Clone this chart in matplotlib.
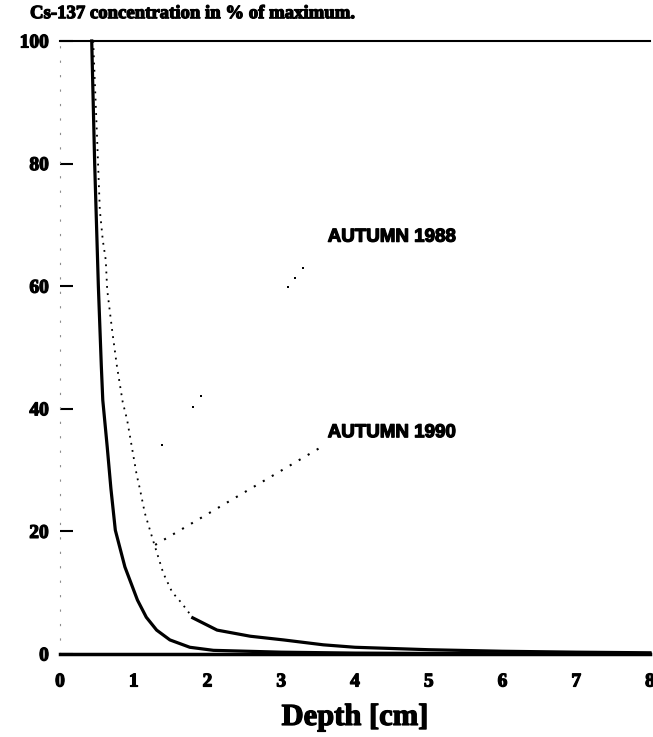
import matplotlib.pyplot as plt
import matplotlib.patheffects as pe

# Cs-137 depth profiles
depth_1988 = [0.43, 0.47, 0.52, 0.56, 0.58, 0.64, 0.69, 0.75, 0.88, 1.05,
              1.17, 1.31, 1.49, 1.76, 2.08, 3.0, 4.0, 5.0, 6.0, 7.0, 8.0]
conc_1988 = [100, 80, 60, 47, 41.4, 33.8, 27.0, 20.2, 14.2, 8.8,
             6.0, 3.9, 2.3, 1.1, 0.6, 0.3, 0.15, 0.1, 0.05, 0.03, 0.02]

# 1990: dotted upper part, solid tail
depth_1990_dot = [0.45, 0.50, 0.54, 0.58, 0.62, 0.64, 0.71, 0.77, 0.85, 0.91,
                  1.04, 1.08, 1.15, 1.22, 1.26, 1.40, 1.52, 1.65, 1.80]
conc_1990_dot = [100, 85, 72.4, 67.5, 64.3, 59.4, 52.5, 47.1, 41.1, 38.2,
                 29.2, 27.1, 23.0, 20.2, 18.6, 13.2, 10.1, 8.3, 5.9]
depth_1990_tail = [1.80, 2.13, 2.58, 3.03, 3.57, 4.0, 5.0, 6.0, 7.0, 8.0]
conc_1990_tail = [5.9, 3.9, 2.9, 2.3, 1.5, 1.1, 0.7, 0.45, 0.3, 0.2]

# leader lines from the labels
leader_1990_x = [1.29, 3.59]
leader_1990_y = [17.8, 34.1]
leader_1988_x = [1.38, 1.80, 1.91, 3.09, 3.19, 3.30]   # only faint fragments survive in the scan
leader_1988_y = [34.1, 40.3, 42.1, 59.9, 61.3, 63.0]

xticks = [0, 1, 2, 3, 4, 5, 6, 7, 8]
yticks = [0, 20, 40, 60, 80, 100]

serif = 'Liberation Serif'
heavy = [pe.withStroke(linewidth=0.9, foreground='black')]

fig = plt.figure(figsize=(6.53, 7.37), dpi=100)
ax = fig.add_axes([0.0919, 0.1126, 0.9035, 0.8318])

ax.plot(depth_1988, conc_1988, color='black', lw=2.3, clip_on=False)
ax.plot(depth_1990_dot, conc_1990_dot, color='black', lw=1.3, ls=(0, (1, 3)))
ax.plot(depth_1990_tail, conc_1990_tail, color='black', lw=2.3, clip_on=False)

ax.plot(leader_1990_x, leader_1990_y, color='black', lw=1.5, ls=(0, (1, 4)))
ax.plot(leader_1988_x, leader_1988_y, 's', color='black', ms=1.6, mew=0)

for yy, lab in [(68.0, 'AUTUMN 1988'), (36.1, 'AUTUMN 1990')]:
    ax.text(3.63, yy, lab, fontsize=13.5, fontweight='bold', family='Liberation Sans',
            va='center', ha='left', path_effects=heavy)

ax.set_xlim(0, 8)
ax.set_ylim(0, 100)
ax.set_xticks(xticks)
ax.set_yticks(yticks)
ax.set_xticklabels([str(t) for t in xticks], fontsize=14, fontweight='bold', family=serif)
ax.set_yticklabels([str(t) for t in yticks], fontsize=14, fontweight='bold', family=serif)
for lbl in ax.get_xticklabels() + ax.get_yticklabels():
    lbl.set_path_effects(heavy)
ax.tick_params(axis='x', length=0, pad=14)
ax.tick_params(axis='y', direction='in', length=9, width=1.5, pad=8)

ax.spines['right'].set_visible(False)
ax.spines['top'].set_linewidth(1.5)
ax.spines['bottom'].set_linewidth(2.5)
ax.spines['left'].set_linewidth(0.8)
ax.spines['left'].set_linestyle((0, (1, 12)))
ax.spines['left'].set_color('0.55')

ax.set_xlabel('Depth [cm]', fontsize=22, fontweight='bold', family=serif, labelpad=9,
              path_effects=heavy)
fig.text(0.046, 0.993, 'Cs-137 concentration in % of maximum.', fontsize=13.5,
         fontweight='bold', family=serif, va='top', ha='left', path_effects=heavy)

fig.savefig('out.png', dpi=100)
